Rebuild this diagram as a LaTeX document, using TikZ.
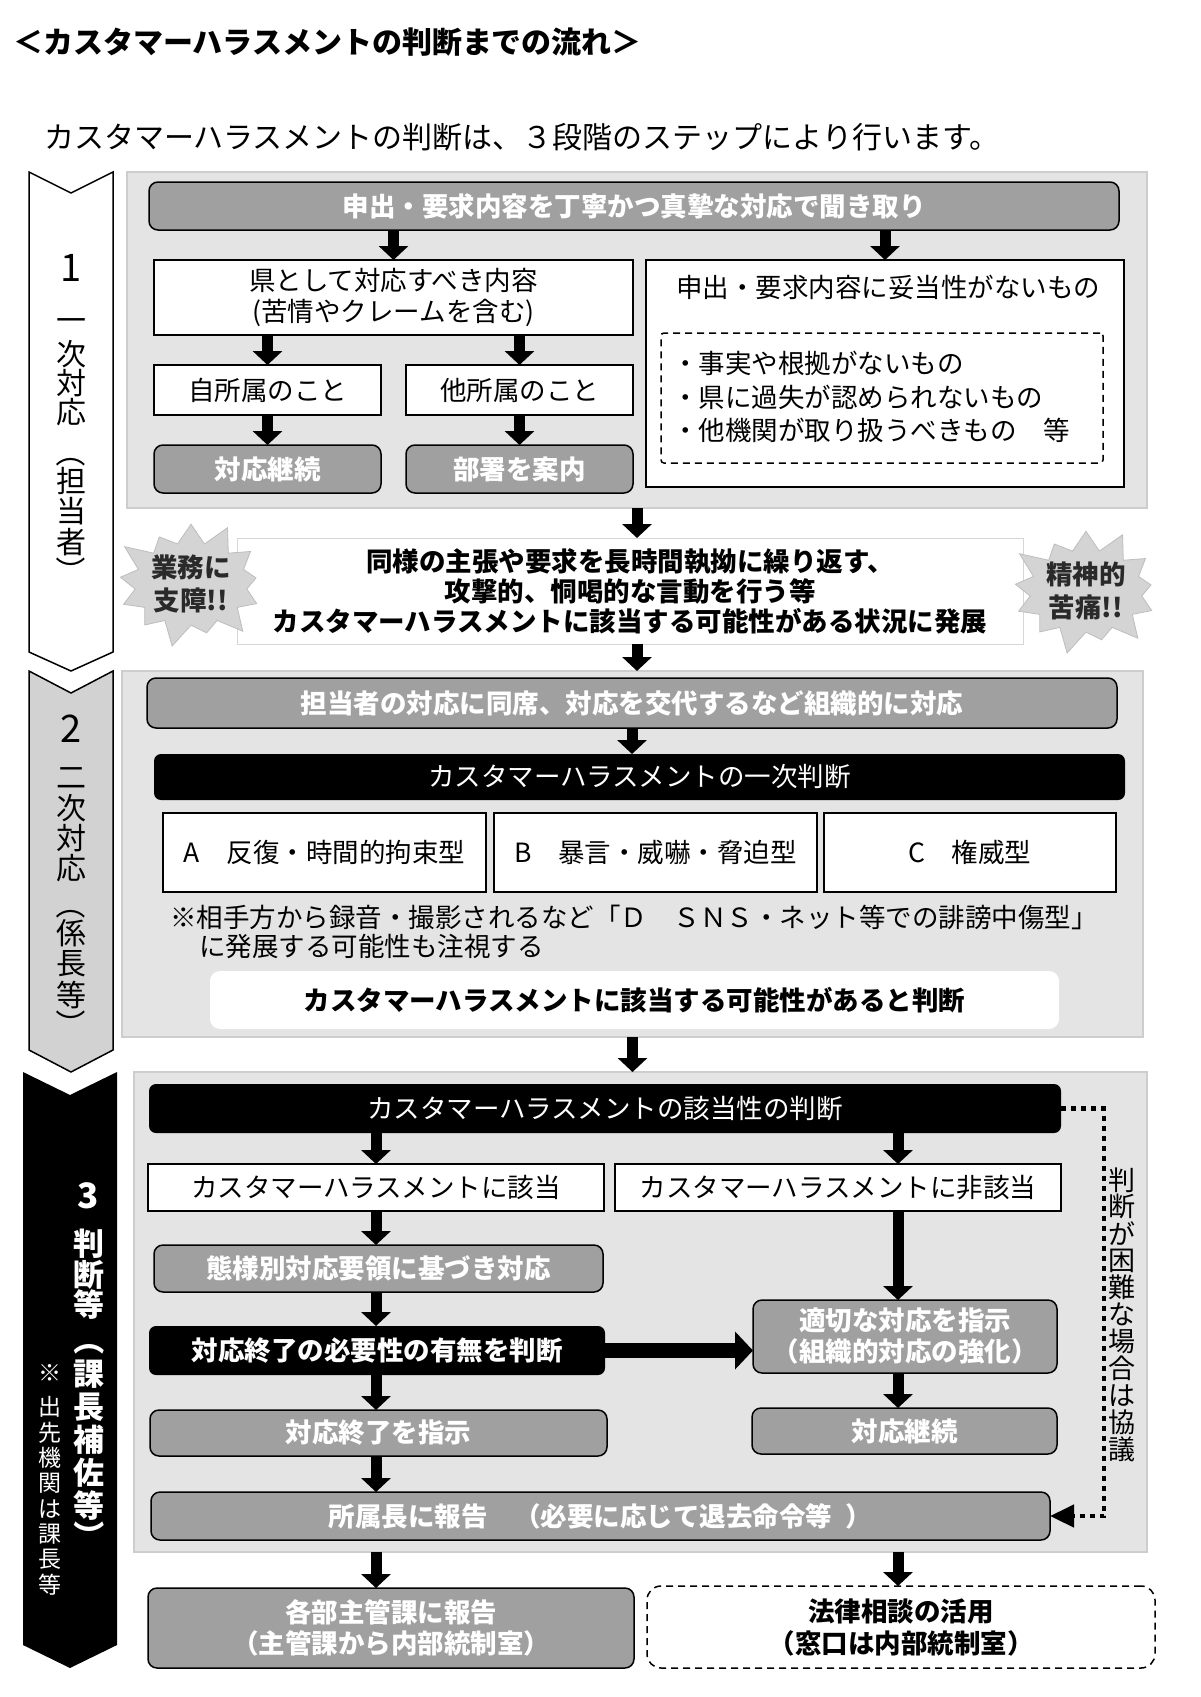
\documentclass[tikz,border=0pt]{standalone}
\usepackage{fontspec}
\setmainfont{Noto Sans CJK JP}
\usetikzlibrary{arrows.meta,shapes.symbols,calc}
\definecolor{panelg}{HTML}{E4E4E4}
\definecolor{panelb}{HTML}{CDCDCD}
\definecolor{nodeg}{HTML}{A0A0A0}
\definecolor{chevg}{HTML}{D2D2D2}
\definecolor{starg}{HTML}{D4D4D4}
\definecolor{starb}{HTML}{BDBDBD}
\definecolor{midb}{HTML}{D6D6D6}
\definecolor{startxt}{HTML}{2A2A2A}
\newcommand\fz[2]{\fontsize{#1pt}{#2pt}\selectfont\lineskiplimit=-100pt\relax}
\newcommand\mybox[7]{\node[#6, minimum width={#4-#2}, minimum height={#5-#3}] (#1) at ({(#2+#4)/2},{(#3+#5)/2}) {#7};}
\newcommand\vstack[6]{\foreach \c [count=\i] in {#6} {\node[#5] (#1-\i) at (#2,{#3+(\i-1)*#4}) {\c};}}
\tikzset{
  base/.style={inner sep=0pt, outer sep=0pt, align=center, font=\fz{26.5}{31}},
  wbox/.style={base, draw=black, line width=1.5pt, fill=white},
  gbox/.style={base, draw=black, line width=1.5pt, fill=nodeg, rounded corners=9pt, text=white, font=\fz{26.5}{31}\bfseries},
  kbox/.style={base, fill=black, rounded corners=7pt, text=white},
  panel/.style={base, fill=panelg, draw=panelb, line width=1.5pt},
  blk/.style={line width=11pt, -{Triangle[width=29pt,length=14pt]}},
  blkh/.style={line width=15pt, -{Triangle[width=37pt,length=18pt]}},
  dots/.style={line width=4.5pt, dash pattern=on 5pt off 5pt, -{Triangle[width=22pt,length=24pt]}},
  chev/.style={line width=1.5pt, draw=black},
  vt1/.style={inner sep=0pt, font=\fz{30}{30}},
  vt3/.style={inner sep=0pt, text=white, font=\fz{31}{31}\bfseries},
  vt4/.style={inner sep=0pt, text=white, font=\fz{23}{23}},
  vt5/.style={inner sep=0pt, font=\fz{27}{27}},
  starn/.style={starburst, starburst points=13, starburst point height=26pt, fill=starg, draw=starb, line width=0.8pt, minimum width=142pt, minimum height=120pt, inner sep=0pt, align=center, text=startxt, font=\fz{26.5}{33}\bfseries},
}
\begin{document}
\begin{tikzpicture}[x=1pt,y=-1pt]
\useasboundingbox (0,0) rectangle (1200,1697);
\fill[white] (0,0) rectangle (1200,1697);

% title
\node[anchor=west, inner sep=0pt, font=\fz{30}{30}\bfseries] (title) at (13,42) {＜カスタマーハラスメントの判断までの流れ＞};
\node[anchor=west, inner sep=0pt, font=\fz{30}{30}] (sub) at (44,137) {カスタマーハラスメントの判断は、３段階のステップにより行います。};

% chevrons
\filldraw[chev, fill=white] (29,172) -- (71,193) -- (113,172) -- (113,652) -- (71,671) -- (29,652) -- cycle;
\filldraw[chev, fill=chevg] (29,671) -- (71,693) -- (113,671) -- (113,1050) -- (71,1072) -- (29,1050) -- cycle;
\fill[black] (23,1072) -- (70,1095) -- (117,1072) -- (117,1645) -- (70,1668) -- (23,1645) -- cycle;

% chevron 1 labels
\node[inner sep=0pt, font=\fz{38}{38}] (c1n) at (71,268) {1};
\vstack{c1a}{71}{325}{29}{vt1}{一,次,対,応}
\node[vt1, rotate=-90] (c1l) at (71,452) {（};
\vstack{c1b}{71}{481}{30.5}{vt1}{担,当,者}
\node[vt1, rotate=-90] (c1r) at (71,571) {）};
% chevron 2 labels
\node[inner sep=0pt, font=\fz{38}{38}] (c2n) at (71,729) {2};
\vstack{c2a}{71}{778}{30}{vt1}{二,次,対,応}
\node[vt1, rotate=-90] (c2l) at (71,904) {（};
\vstack{c2b}{71}{933}{31}{vt1}{係,長,等}
\node[vt1, rotate=-90] (c2r) at (71,1024) {）};
% chevron 3 labels
\node[inner sep=0pt, text=white, font=\fz{35}{35}\bfseries] (c3n) at (88,1196) {3};
\vstack{c3a}{89}{1244}{30.5}{vt3}{判,断,等}
\node[vt3, rotate=-90] (c3l) at (89,1340) {（};
\vstack{c3b}{89}{1374}{33}{vt3}{課,長,補,佐,等}
\node[vt3, rotate=-90] (c3r) at (89,1536) {）};
\node[vt4] (c3c) at (50,1373) {※};
\vstack{c3d}{50}{1407}{25.4}{vt4}{出,先,機,関,は,課,長,等}

% ---------- section 1
\mybox{p1}{127}{172}{1147}{508}{panel}{}
\mybox{h1}{149}{182}{1119}{230}{gbox}{申出・要求内容を丁寧かつ真摯な対応で聞き取り}
\mybox{k1}{154}{260}{633}{335}{wbox}{県として対応すべき内容\\(苦情やクレームを含む)}
\mybox{j1}{154}{365}{381}{415}{wbox}{自所属のこと}
\mybox{t1}{406}{365}{633}{415}{wbox}{他所属のこと}
\mybox{c1}{154}{445}{381}{493}{gbox}{対応継続}
\mybox{b1}{406}{445}{633}{493}{gbox}{部署を案内}
\mybox{r1}{646}{260}{1124}{487}{wbox}{}
\node[base] (r1t) at (888,287) {申出・要求内容に妥当性がないもの};
\mybox{d1}{661}{333}{1103}{463}{base, draw=black, line width=1.5pt, dash pattern=on 7pt off 5pt, rounded corners=3pt}{}
\node[base, anchor=west, align=left, font=\fz{26.5}{33.5}] (d1t) at (672,397) {・事実や根拠がないもの\\・県に過失が認められないもの\\・他機関が取り扱うべきもの　等};

\draw[blk] (h1.south -| k1) -- (k1.north);
\draw[blk] (h1.south -| r1) -- (r1.north);
\draw[blk] (k1.south -| j1) -- (j1.north);
\draw[blk] (k1.south -| t1) -- (t1.north);
\draw[blk] (j1.south) -- (c1.north);
\draw[blk] (t1.south) -- (b1.north);

% middle
\mybox{m}{237}{538}{1023}{644}{base, fill=white, draw=midb, line width=1pt, font=\fz{26.5}{30}\bfseries}{同様の主張や要求を長時間執拗に繰り返す、\\攻撃的、恫喝的な言動を行う等\\カスタマーハラスメントに該当する可能性がある状況に発展}
\node[starn] (s1) at (191,584) {業務に\\支障!!};
\node[starn] (s2) at (1086,591) {精神的\\苦痛!!};
\draw[blk] (p1.south) -- (p1.south |- m.north);

% ---------- section 2
\mybox{p2}{122}{671}{1143}{1037}{panel}{}
\draw[blk] (m.south -| p1.south) -- (p1.south |- p2.north);
\mybox{h2}{147}{678}{1117}{728}{gbox}{担当者の対応に同席、対応を交代するなど組織的に対応}
\mybox{k2}{154}{754}{1125}{800}{kbox}{カスタマーハラスメントの一次判断}
\mybox{ta}{163}{813}{486}{892}{wbox}{A\quad 反復・時間的拘束型}
\mybox{tb}{494}{813}{817}{892}{wbox}{B\quad 暴言・威嚇・脅迫型}
\mybox{tc}{824}{813}{1116}{892}{wbox}{C\quad 権威型}
\node[base, anchor=west] (n1) at (170,917) {※相手方から録音・撮影されるなど「Ｄ　ＳＮＳ・ネット等での誹謗中傷型」};
\node[base, anchor=west] (n2) at (199,946) {に発展する可能性も注視する};
\mybox{w2}{210}{971}{1059}{1029}{base, fill=white, rounded corners=10pt, font=\fz{26.5}{31}\bfseries}{カスタマーハラスメントに該当する可能性があると判断}
\draw[blk] (h2.south) -- (h2.south |- k2.north);

% ---------- section 3
\mybox{p3}{134}{1072}{1147}{1552}{panel}{}
\draw[blk] (p2.south) -- (p2.south |- p3.north);
\coordinate (cL) at (376,0);
\coordinate (cR) at (898,0);
\coordinate (cD) at (1104,1300);
\mybox{h3}{149}{1084}{1061}{1133}{kbox}{カスタマーハラスメントの該当性の判断}
\mybox{ga}{148}{1164}{604}{1211}{wbox}{カスタマーハラスメントに該当}
\mybox{hg}{615}{1164}{1061}{1211}{wbox}{カスタマーハラスメントに非該当}
\mybox{ty}{154}{1245}{603}{1292}{gbox}{態様別対応要領に基づき対応}
\mybox{sh}{149}{1326}{605}{1375}{kbox, font=\fz{26.5}{31}\bfseries}{対応終了の必要性の有無を判断}
\mybox{si}{150}{1410}{607}{1456}{gbox}{対応終了を指示}
\mybox{so}{151}{1492}{1050}{1540}{gbox}{所属長に報告　（必要に応じて退去命令等\hspace{.5em}）}
\mybox{te}{753}{1300}{1057}{1373}{gbox}{適切な対応を指示\\（組織的対応の強化）}
\mybox{kz}{752}{1408}{1057}{1454}{gbox}{対応継続}
\vstack{dt}{1122}{1180}{26.9}{vt5}{判,断,が,困,難,な,場,合,は,協,議}

\draw[blk] (h3.south -| cL) -- (ga.north -| cL);
\draw[blk] (h3.south -| cR) -- (hg.north -| cR);
\draw[blk] (ga.south -| cL) -- (ty.north -| cL);
\draw[blk] (ty.south -| cL) -- (sh.north -| cL);
\draw[blk] (sh.south -| cL) -- (si.north -| cL);
\draw[blk] (si.south -| cL) -- (so.north -| cL);
\draw[blk] (hg.south -| cR) -- (te.north -| cR);
\draw[blk] (te.south -| cR) -- (kz.north -| cR);
\draw[blkh] (sh.east) -- (sh.east -| te.west);
\draw[dots] (h3.east) -| (cD) |- (so.east);

% bottom
\mybox{kb}{148}{1588}{634}{1668}{gbox}{各部主管課に報告\\（主管課から内部統制室）}
\mybox{hr}{647}{1586}{1155}{1668}{base, draw=black, line width=1.5pt, dash pattern=on 7pt off 5pt, rounded corners=14pt, font=\fz{26.5}{32}\bfseries}{法律相談の活用\\（窓口は内部統制室）}
\draw[blk] (p3.south -| cL) -- (kb.north -| cL);
\draw[blk] (p3.south -| cR) -- (hr.north -| cR);
\end{tikzpicture}
\end{document}
